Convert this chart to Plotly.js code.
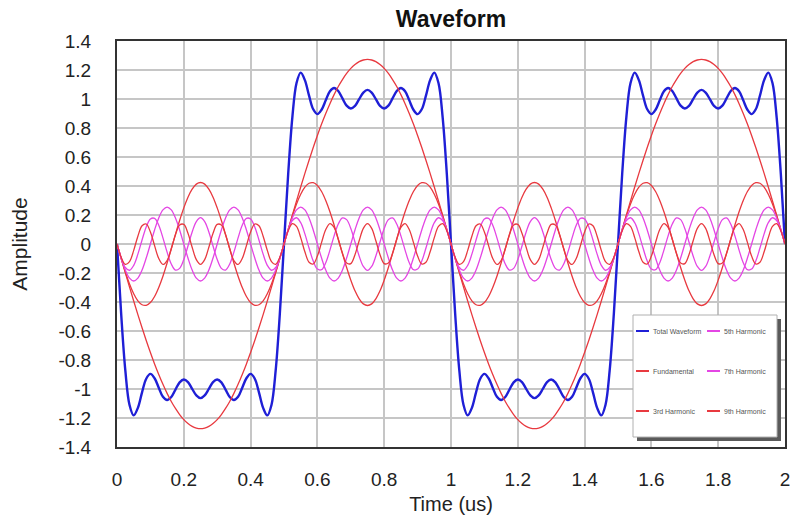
<!DOCTYPE html>
<html>
<head>
<meta charset="utf-8">
<script src="https://cdn.plot.ly/plotly-3.0.1.min.js"></script>
<style>html,body{margin:0;padding:0;background:#fff;}#chart{width:793px;height:519px;}</style>
</head>
<body>
<div id="chart"></div>
<script>
// Time samples (us)
var timeUs = [0,0.0125,0.025,0.0375,0.05,0.0625,0.075,0.0875,0.1,0.1125,0.125,0.1375,0.15,0.1625,0.175,0.1875,0.2,0.2125,0.225,0.2375,0.25,0.2625,0.275,0.2875,0.3,0.3125,0.325,0.3375,0.35,0.3625,0.375,0.3875,0.4,0.4125,0.425,0.4375,0.45,0.4625,0.475,0.4875,0.5,0.5125,0.525,0.5375,0.55,0.5625,0.575,0.5875,0.6,0.6125,0.625,0.6375,0.65,0.6625,0.675,0.6875,0.7,0.7125,0.725,0.7375,0.75,0.7625,0.775,0.7875,0.8,0.8125,0.825,0.8375,0.85,0.8625,0.875,0.8875,0.9,0.9125,0.925,0.9375,0.95,0.9625,0.975,0.9875,1,1.0125,1.025,1.0375,1.05,1.0625,1.075,1.0875,1.1,1.1125,1.125,1.1375,1.15,1.1625,1.175,1.1875,1.2,1.2125,1.225,1.2375,1.25,1.2625,1.275,1.2875,1.3,1.3125,1.325,1.3375,1.35,1.3625,1.375,1.3875,1.4,1.4125,1.425,1.4375,1.45,1.4625,1.475,1.4875,1.5,1.5125,1.525,1.5375,1.55,1.5625,1.575,1.5875,1.6,1.6125,1.625,1.6375,1.65,1.6625,1.675,1.6875,1.7,1.7125,1.725,1.7375,1.75,1.7625,1.775,1.7875,1.8,1.8125,1.825,1.8375,1.85,1.8625,1.875,1.8875,1.9,1.9125,1.925,1.9375,1.95,1.9625,1.975,1.9875,2];

var totalWaveform = [0,
-.483,-.874,-1.110,-1.182,-1.130,-1.023,-.929,-.896,-.926,-.991,-1.054,-1.076,-1.055,-1.004,-.954,-.934,-.952,-.999,-1.044,-1.063,-1.044,-.999,-.952,-.934,-.954,-1.004,-1.055,-1.076,-1.054,-.991,-.926,-.896,-.929,-1.023,-1.130,-1.182,-1.110,-.874,-.483,0,
.483,.874,1.110,1.182,1.130,1.023,.929,.896,.926,.991,1.054,1.076,1.055,1.004,.954,.934,.952,.999,1.044,1.063,1.044,.999,.952,.934,.954,1.004,1.055,1.076,1.054,.991,.926,.896,.929,1.023,1.130,1.182,1.110,.874,.483,0,
-.483,-.874,-1.110,-1.182,-1.130,-1.023,-.929,-.896,-.926,-.991,-1.054,-1.076,-1.055,-1.004,-.954,-.934,-.952,-.999,-1.044,-1.063,-1.044,-.999,-.952,-.934,-.954,-1.004,-1.055,-1.076,-1.054,-.991,-.926,-.896,-.929,-1.023,-1.130,-1.182,-1.110,-.874,-.483,0,
.483,.874,1.110,1.182,1.130,1.023,.929,.896,.926,.991,1.054,1.076,1.055,1.004,.954,.934,.952,.999,1.044,1.063,1.044,.999,.952,.934,.954,1.004,1.055,1.076,1.054,.991,.926,.896,.929,1.023,1.130,1.182,1.110,.874,.483,0];

var fundamental = [0,
-.100,-.199,-.297,-.393,-.487,-.578,-.665,-.748,-.827,-.900,-.968,-1.030,-1.086,-1.134,-1.176,-1.211,-1.238,-1.258,-1.269,-1.273,-1.269,-1.258,-1.238,-1.211,-1.176,-1.134,-1.086,-1.030,-.968,-.900,-.827,-.748,-.665,-.578,-.487,-.393,-.297,-.199,-.100,0,
.100,.199,.297,.393,.487,.578,.665,.748,.827,.900,.968,1.030,1.086,1.134,1.176,1.211,1.238,1.258,1.269,1.273,1.269,1.258,1.238,1.211,1.176,1.134,1.086,1.030,.968,.900,.827,.748,.665,.578,.487,.393,.297,.199,.100,0,
-.100,-.199,-.297,-.393,-.487,-.578,-.665,-.748,-.827,-.900,-.968,-1.030,-1.086,-1.134,-1.176,-1.211,-1.238,-1.258,-1.269,-1.273,-1.269,-1.258,-1.238,-1.211,-1.176,-1.134,-1.086,-1.030,-.968,-.900,-.827,-.748,-.665,-.578,-.487,-.393,-.297,-.199,-.100,0,
.100,.199,.297,.393,.487,.578,.665,.748,.827,.900,.968,1.030,1.086,1.134,1.176,1.211,1.238,1.258,1.269,1.273,1.269,1.258,1.238,1.211,1.176,1.134,1.086,1.030,.968,.900,.827,.748,.665,.578,.487,.393,.297,.199,.100,0];

var harmonic3 = [0,
-.099,-.193,-.276,-.343,-.392,-.419,-.423,-.404,-.362,-.300,-.222,-.131,-.033,.066,.162,.249,.323,.378,.413,.424,.413,.378,.323,.249,.162,.066,-.033,-.131,-.222,-.300,-.362,-.404,-.423,-.419,-.392,-.343,-.276,-.193,-.099,0,
.099,.193,.276,.343,.392,.419,.423,.404,.362,.300,.222,.131,.033,-.066,-.162,-.249,-.323,-.378,-.413,-.424,-.413,-.378,-.323,-.249,-.162,-.066,.033,.131,.222,.300,.362,.404,.423,.419,.392,.343,.276,.193,.099,0,
-.099,-.193,-.276,-.343,-.392,-.419,-.423,-.404,-.362,-.300,-.222,-.131,-.033,.066,.162,.249,.323,.378,.413,.424,.413,.378,.323,.249,.162,.066,-.033,-.131,-.222,-.300,-.362,-.404,-.423,-.419,-.392,-.343,-.276,-.193,-.099,0,
.099,.193,.276,.343,.392,.419,.423,.404,.362,.300,.222,.131,.033,-.066,-.162,-.249,-.323,-.378,-.413,-.424,-.413,-.378,-.323,-.249,-.162,-.066,.033,.131,.222,.300,.362,.404,.423,.419,.392,.343,.276,.193,.099,0];

var harmonic5 = [0,
-.097,-.180,-.235,-.255,-.235,-.180,-.097,0,.097,.180,.235,.255,.235,.180,.097,0,-.097,-.180,-.235,-.255,-.235,-.180,-.097,0,.097,.180,.235,.255,.235,.180,.097,0,-.097,-.180,-.235,-.255,-.235,-.180,-.097,0,
.097,.180,.235,.255,.235,.180,.097,0,-.097,-.180,-.235,-.255,-.235,-.180,-.097,0,.097,.180,.235,.255,.235,.180,.097,0,-.097,-.180,-.235,-.255,-.235,-.180,-.097,0,.097,.180,.235,.255,.235,.180,.097,0,
-.097,-.180,-.235,-.255,-.235,-.180,-.097,0,.097,.180,.235,.255,.235,.180,.097,0,-.097,-.180,-.235,-.255,-.235,-.180,-.097,0,.097,.180,.235,.255,.235,.180,.097,0,-.097,-.180,-.235,-.255,-.235,-.180,-.097,0,
.097,.180,.235,.255,.235,.180,.097,0,-.097,-.180,-.235,-.255,-.235,-.180,-.097,0,.097,.180,.235,.255,.235,.180,.097,0,-.097,-.180,-.235,-.255,-.235,-.180,-.097,0,.097,.180,.235,.255,.235,.180,.097,0];

var harmonic7 = [0,
-.095,-.162,-.181,-.147,-.070,.028,.118,.173,.177,.129,.042,-.056,-.138,-.180,-.168,-.107,-.014,.083,.155,.182,.155,.083,-.014,-.107,-.168,-.180,-.138,-.056,.042,.129,.177,.173,.118,.028,-.070,-.147,-.181,-.162,-.095,0,
.095,.162,.181,.147,.070,-.028,-.118,-.173,-.177,-.129,-.042,.056,.138,.180,.168,.107,.014,-.083,-.155,-.182,-.155,-.083,.014,.107,.168,.180,.138,.056,-.042,-.129,-.177,-.173,-.118,-.028,.070,.147,.181,.162,.095,0,
-.095,-.162,-.181,-.147,-.070,.028,.118,.173,.177,.129,.042,-.056,-.138,-.180,-.168,-.107,-.014,.083,.155,.182,.155,.083,-.014,-.107,-.168,-.180,-.138,-.056,.042,.129,.177,.173,.118,.028,-.070,-.147,-.181,-.162,-.095,0,
.095,.162,.181,.147,.070,-.028,-.118,-.173,-.177,-.129,-.042,.056,.138,.180,.168,.107,.014,-.083,-.155,-.182,-.155,-.083,.014,.107,.168,.180,.138,.056,-.042,-.129,-.177,-.173,-.118,-.028,.070,.147,.181,.162,.095,0];

var harmonic9 = [0,
-.092,-.140,-.121,-.044,.054,.126,.138,.083,-.011,-.100,-.141,-.114,-.033,.064,.131,.135,.074,-.022,-.108,-.141,-.108,-.022,.074,.135,.131,.064,-.033,-.114,-.141,-.100,-.011,.083,.138,.126,.054,-.044,-.121,-.140,-.092,0,
.092,.140,.121,.044,-.054,-.126,-.138,-.083,.011,.100,.141,.114,.033,-.064,-.131,-.135,-.074,.022,.108,.141,.108,.022,-.074,-.135,-.131,-.064,.033,.114,.141,.100,.011,-.083,-.138,-.126,-.054,.044,.121,.140,.092,0,
-.092,-.140,-.121,-.044,.054,.126,.138,.083,-.011,-.100,-.141,-.114,-.033,.064,.131,.135,.074,-.022,-.108,-.141,-.108,-.022,.074,.135,.131,.064,-.033,-.114,-.141,-.100,-.011,.083,.138,.126,.054,-.044,-.121,-.140,-.092,0,
.092,.140,.121,.044,-.054,-.126,-.138,-.083,.011,.100,.141,.114,.033,-.064,-.131,-.135,-.074,.022,.108,.141,.108,.022,-.074,-.135,-.131,-.064,.033,.114,.141,.100,.011,-.083,-.138,-.126,-.054,.044,.121,.140,.092,0];

var seriesNames = ['Total Waveform','Fundamental','3rd Harmonic','5th Harmonic','7th Harmonic','9th Harmonic'];
var seriesValues = [totalWaveform, fundamental, harmonic3, harmonic5, harmonic7, harmonic9];
var seriesColors = ['#1f1fd6','#e8393f','#e8393f','#e446e4','#e446e4','#e8393f'];
var seriesWidths = [2.4,1.3,1.3,1.3,1.3,1.3];

var xTickVals = [0,0.2,0.4,0.6,0.8,1,1.2,1.4,1.6,1.8,2];
var xTickText = ['0','0.2','0.4','0.6','0.8','1','1.2','1.4','1.6','1.8','2'];
var yTickVals = [1.4,1.2,1,0.8,0.6,0.4,0.2,0,-0.2,-0.4,-0.6,-0.8,-1,-1.2,-1.4];
var yTickText = ['1.4','1.2','1','0.8','0.6','0.4','0.2','0','-0.2','-0.4','-0.6','-0.8','-1','-1.2','-1.4'];

var FONT = 'Liberation Sans, Arial, sans-serif';
var traces = seriesNames.map(function (n, i) {
  return {
    type: 'scatter', mode: 'lines', name: n, x: timeUs, y: seriesValues[i],
    line: {color: seriesColors[i], width: seriesWidths[i], shape: 'spline', smoothing: 1},
    showlegend: false, hoverinfo: 'x+y+name'
  };
});

// Plot area in pixels: left 117, right 785, top 41, bottom 447
var PL = 117, PR = 785, PT = 41, PB = 447;
function px2x(p) { return (p - PL) / (PR - PL); }
function py2y(p) { return (PB - p) / (PB - PT); }

var shapes = [
  {type: 'rect', xref: 'paper', yref: 'paper', layer: 'above',
   x0: px2x(637), x1: px2x(781), y0: py2y(441), y1: py2y(319),
   fillcolor: '#5a5a5a', line: {width: 0}},
  {type: 'rect', xref: 'paper', yref: 'paper', layer: 'above',
   x0: px2x(633), x1: px2x(777), y0: py2y(437), y1: py2y(315),
   fillcolor: '#ffffff', line: {color: '#b0b0b0', width: 1}}
];
var annotations = [];
var colX = [636, 707];
var rowY = [331, 371, 411];
seriesNames.forEach(function (n, i) {
  var c = Math.floor(i / 3), r = i % 3;
  shapes.push({type: 'line', xref: 'paper', yref: 'paper', layer: 'above',
    x0: px2x(colX[c]), x1: px2x(colX[c] + 13), y0: py2y(rowY[r]), y1: py2y(rowY[r]),
    line: {color: seriesColors[i], width: 2}});
  annotations.push({xref: 'paper', yref: 'paper', x: px2x(colX[c] + 15), y: py2y(rowY[r]),
    xanchor: 'left', yanchor: 'middle', showarrow: false, text: n,
    font: {family: FONT, size: 7, color: '#555'}});
});

var axisCommon = {
  showgrid: true, gridcolor: '#c6c6c6', gridwidth: 1.5,
  showline: true, linecolor: '#333', linewidth: 2, mirror: true,
  zeroline: false, ticks: '', tickmode: 'array',
  tickfont: {family: FONT, size: 19, color: '#222'}
};

var layout = {
  width: 793, height: 519,
  margin: {l: PL, r: 793 - PR, t: PT, b: 519 - PB, pad: 0},
  paper_bgcolor: '#fff', plot_bgcolor: '#fff',
  title: {text: 'Waveform', x: 0.5, xref: 'paper', xanchor: 'center',
          y: 1 - 19 / 519, yref: 'container', yanchor: 'middle',
          font: {family: FONT, size: 23, color: '#111', weight: 'bold'}},
  xaxis: Object.assign({}, axisCommon, {
    range: [0, 2], tickvals: xTickVals, ticktext: xTickText, ticklabelstandoff: 14,
    title: {text: 'Time (us)', standoff: 8, font: {family: FONT, size: 20, color: '#222'}}
  }),
  yaxis: Object.assign({}, axisCommon, {
    range: [-1.4, 1.4], tickvals: yTickVals, ticktext: yTickText, ticklabelstandoff: 20,
    title: {text: 'Amplitude', standoff: 25, font: {family: FONT, size: 21, color: '#222'}}
  }),
  shapes: shapes,
  annotations: annotations,
  showlegend: false
};

Plotly.newPlot('chart', traces, layout, {staticPlot: false, displayModeBar: false});
</script>
</body>
</html>
